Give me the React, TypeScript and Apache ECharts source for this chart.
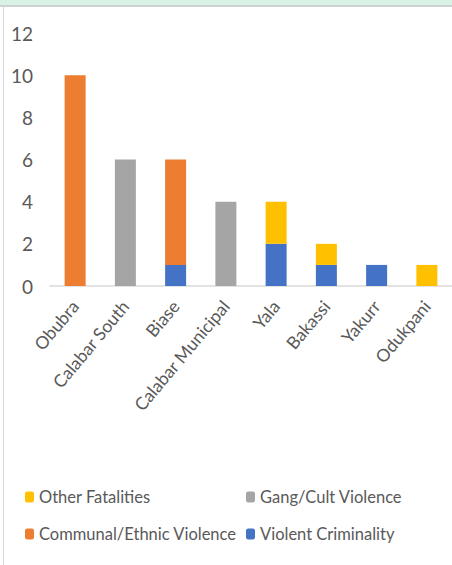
import React, { useEffect, useRef } from "react";
import * as echarts from "echarts";

const categories = ["Obubra", "Calabar South", "Biase", "Calabar Municipal", "Yala", "Bakassi", "Yakurr", "Odukpani"];
const violentCriminality = [0, 0, 1, 0, 2, 1, 1, 0];
const communalEthnic = [10, 0, 5, 0, 0, 0, 0, 0];
const gangCult = [0, 6, 0, 4, 0, 0, 0, 0];
const otherFatalities = [0, 0, 0, 0, 2, 1, 0, 1];
const yTicks = { min: 0, max: 12, interval: 2 };

const FONT = "Lato, 'Open Sans', sans-serif";
const TXT = "#595959";

export default function App() {
  const ref = useRef<HTMLDivElement>(null);
  useEffect(() => {
    document.body.style.margin = "0";
    const chart = echarts.init(ref.current!, null, { renderer: "svg" });
    const z = (arr: number[]) => arr.map((v) => (v === 0 ? null : v));
    const mk = (name: string, data: number[], color: string) => ({
      name,
      type: "bar",
      stack: "total",
      barWidth: 21,
      data: z(data),
      itemStyle: { color },
    });
    const legendText = { color: TXT, fontSize: 16.5, fontFamily: FONT, lineHeight: 18 };
    chart.setOption({
      animation: false,
      backgroundColor: "#ffffff",
      textStyle: { fontFamily: FONT },
      graphic: [
        { type: "rect", shape: { x: 0, y: 0, width: 452, height: 5 }, style: { fill: "#d8f3e6" } },
        { type: "rect", shape: { x: 0, y: 5, width: 452, height: 2 }, style: { fill: "#d0d0d0" } },
        { type: "rect", shape: { x: 3, y: 7, width: 1, height: 558 }, style: { fill: "#d9d9d9" } },
      ],
      grid: { left: 50, right: 0, top: 33, bottom: 279, containLabel: false },
      xAxis: {
        type: "category",
        data: categories,
        axisLine: { lineStyle: { color: "#d9d9d9", width: 1.5 } },
        axisTick: { show: false },
        axisLabel: {
          rotate: 50,
          interval: 0,
          margin: 17,
          color: TXT,
          fontSize: 17.5,
          fontFamily: FONT,
        },
      },
      yAxis: {
        type: "value",
        min: yTicks.min,
        max: yTicks.max,
        interval: yTicks.interval,
        splitLine: { show: false },
        axisLine: { show: false },
        axisTick: { show: false },
        axisLabel: { color: TXT, fontSize: 19, margin: 17, fontFamily: FONT },
      },
      legend: [
        {
          data: ["Other Fatalities", "Communal/Ethnic Violence"],
          orient: "vertical",
          left: 20,
          top: 483,
          itemWidth: 9,
          itemHeight: 11,
          itemGap: 19,
          textStyle: legendText,
        },
        {
          data: ["Gang/Cult Violence", "Violent Criminality"],
          orient: "vertical",
          left: 241,
          top: 483,
          itemWidth: 9,
          itemHeight: 11,
          itemGap: 19,
          textStyle: legendText,
        },
      ],
      series: [
        mk("Violent Criminality", violentCriminality, "#4472C4"),
        mk("Communal/Ethnic Violence", communalEthnic, "#ED7D31"),
        mk("Gang/Cult Violence", gangCult, "#A5A5A5"),
        mk("Other Fatalities", otherFatalities, "#FFC000"),
      ],
    });
    return () => chart.dispose();
  }, []);
  return <div ref={ref} style={{ position: "absolute", left: 0, top: 0, width: 452, height: 565 }} />;
}
